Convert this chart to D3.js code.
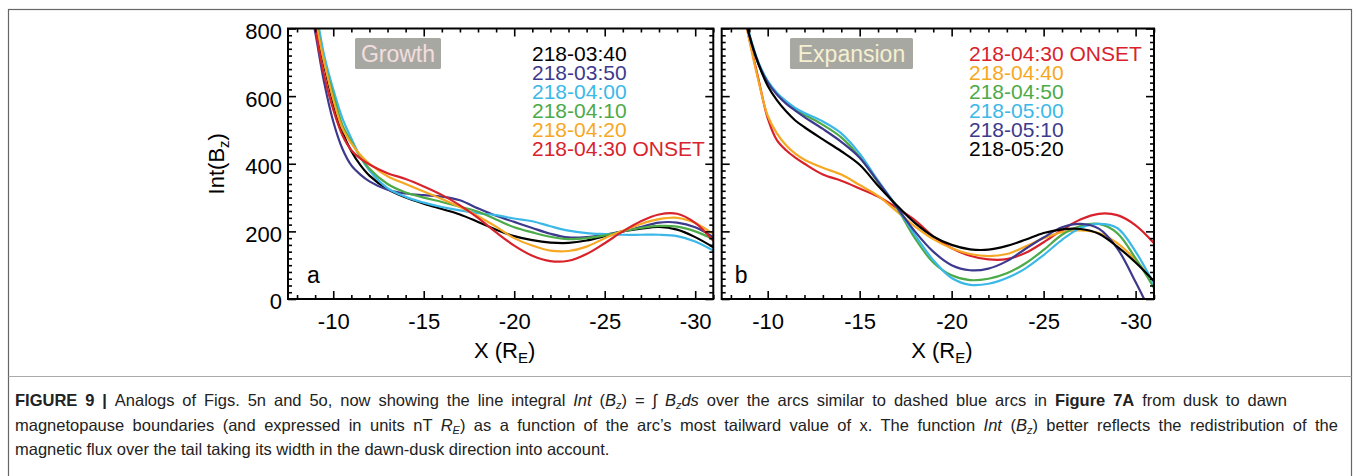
<!DOCTYPE html>
<html>
<head>
<meta charset="utf-8">
<script src="https://cdn.jsdelivr.net/npm/d3@7"></script>
<style>
  body { margin: 0; background: #fff; }
  svg { display: block; font-family: "Liberation Sans", Arial, sans-serif; }
</style>
</head>
<body>
<div id="graph"></div>
<script>
var xs = [-8.6, -9, -9.5, -10, -10.5, -11, -11.5, -12, -13, -14, -15, -16, -17, -18, -19, -20,
          -21, -22, -23, -24, -25, -26, -27, -28, -29, -30, -31];

// panel a : growth phase
var growthLabels = ["218-03:40", "218-03:50", "218-04:00", "218-04:10", "218-04:20", "218-04:30 ONSET"];
var growthColors = ["#000000", "#3d3a8e", "#3cb8e8", "#4caa48", "#f6a823", "#d8232c"];
var g0340 = [960, 810, 690, 580, 495, 437, 396, 365, 325, 300, 282, 266, 250, 228, 205, 186, 174, 167, 166, 173, 186, 200, 208, 213, 205, 183, 153];
var g0350 = [900, 790, 640, 525, 445, 395, 368, 348, 323, 312, 307, 303, 292, 268, 246, 228, 210, 193, 182, 183, 190, 200, 213, 226, 226, 212, 183];
var g0400 = [1000, 870, 720, 620, 535, 475, 420, 380, 328, 302, 285, 272, 262, 254, 248, 238, 230, 215, 202, 195, 192, 190, 190, 190, 186, 170, 143];
var g0410 = [980, 840, 700, 605, 515, 465, 420, 385, 340, 315, 300, 287, 273, 258, 235, 212, 197, 184, 177, 180, 188, 200, 210, 216, 214, 200, 177];
var g0420 = [980, 830, 700, 590, 505, 460, 426, 400, 363, 340, 318, 296, 272, 245, 214, 180, 158, 143, 142, 155, 180, 202, 222, 236, 240, 225, 192];
var g0430 = [950, 805, 660, 560, 485, 440, 415, 398, 372, 355, 333, 308, 277, 240, 197, 158, 128, 112, 113, 133, 165, 200, 230, 250, 252, 225, 172];

// panel b : expansion phase
var expLabels = ["218-04:30 ONSET", "218-04:40", "218-04:50", "218-05:00", "218-05:10", "218-05:20"];
var expColors = ["#d8232c", "#f6a823", "#4caa48", "#3cb8e8", "#3d3a8e", "#000000"];
var e0430 = [880, 770, 650, 535, 470, 440, 418, 400, 368, 350, 327, 303, 270, 233, 185, 150, 128, 117, 118, 136, 168, 204, 235, 252, 248, 218, 165];
var e0440 = [880, 765, 645, 542, 490, 455, 430, 412, 388, 368, 337, 305, 260, 215, 177, 150, 133, 127, 133, 155, 180, 198, 203, 195, 165, 115, 48];
var e0450 = [880, 782, 698, 643, 607, 582, 562, 545, 515, 478, 420, 345, 272, 180, 108, 70, 56, 60, 76, 105, 145, 190, 216, 222, 195, 120, 33];
var e0500 = [880, 785, 700, 645, 610, 585, 565, 550, 525, 490, 430, 350, 275, 190, 115, 62, 42, 45, 62, 90, 130, 175, 210, 222, 210, 140, 43];
var e0510 = [880, 780, 695, 641, 605, 578, 557, 538, 503, 465, 418, 347, 273, 200, 140, 100, 85, 90, 112, 148, 182, 212, 222, 208, 150, 50, -60];
var e0520 = [870, 780, 695, 631, 588, 555, 528, 508, 472, 437, 397, 335, 278, 225, 185, 160, 147, 146, 157, 175, 195, 206, 207, 193, 155, 108, 53];

var xDomain = [-7.5, -31];
var yDomain = [0, 800];
var xMajor = [-10, -15, -20, -25, -30];
var yMajor = [0, 200, 400, 600, 800];

var W = 1356, H = 476;
var svg = d3.select("#graph").append("svg").attr("width", W).attr("height", H);

// figure frame and separator
svg.append("rect").attr("x", 8.5).attr("y", 9.5).attr("width", 1343).attr("height", 480)
    .attr("fill", "none").attr("stroke", "#666").attr("stroke-width", 1.2);
svg.append("line").attr("x1", 8.5).attr("x2", 1351.5).attr("y1", 376.5).attr("y2", 376.5)
    .attr("stroke", "#aaa").attr("stroke-width", 1);

var plotTop = 28.5, plotBottom = 299;
var y = d3.scaleLinear().domain(yDomain).range([plotBottom, plotTop]);

function drawPanel(p) {
    var x = d3.scaleLinear().domain(xDomain).range([p.left, p.right]);
    var g = svg.append("g");

    var clipId = "clip" + p.letter;
    svg.append("defs").append("clipPath").attr("id", clipId)
        .append("rect").attr("x", p.left).attr("y", plotTop)
        .attr("width", p.right - p.left).attr("height", plotBottom - plotTop);

    // curves
    var line = d3.line()
        .x(function(d) { return x(d[0]); })
        .y(function(d) { return y(d[1]); })
        .curve(d3.curveCatmullRom.alpha(0.5));
    var lines = g.append("g").attr("clip-path", "url(#" + clipId + ")");
    p.series.forEach(function(s, i) {
        lines.append("path")
            .datum(xs.map(function(v, j) { return [v, s[j]]; }))
            .attr("d", line)
            .attr("fill", "none")
            .attr("stroke", p.colors[i])
            .attr("stroke-width", 2.2);
    });

    // axes, ticks pointing inward on all four sides
    var xMinor = d3.range(-8, -31.5, -1).filter(function(v) { return xMajor.indexOf(v) < 0; });
    var yMinor = d3.range(20, 800, 20).filter(function(v) { return v % 200 != 0; });

    function addAxis(axis, tr, cls) {
        var a = g.append("g").attr("class", cls).attr("transform", tr).call(axis);
        a.select(".domain").remove();
        a.selectAll(".tick line").attr("stroke", "#000").attr("stroke-width", 1.6);
        return a;
    }

    var xb = addAxis(d3.axisBottom(x).tickValues(xMajor).tickSize(-8).tickPadding(14)
        .tickFormat(function(d) { return d; }), "translate(0," + plotBottom + ")", "axis axis--x");
    xb.selectAll("text").attr("font-size", 22).attr("fill", "#000")
        .attr("font-family", "Liberation Sans, Arial, sans-serif");
    addAxis(d3.axisBottom(x).tickValues(xMinor).tickSize(-4).tickFormat(""), "translate(0," + plotBottom + ")", "minor");
    addAxis(d3.axisTop(x).tickValues(xMajor).tickSize(-8).tickFormat(""), "translate(0," + plotTop + ")", "minor");
    addAxis(d3.axisTop(x).tickValues(xMinor).tickSize(-4).tickFormat(""), "translate(0," + plotTop + ")", "minor");

    var yl = addAxis(d3.axisLeft(y).tickValues(yMajor).tickSize(-8).tickPadding(6)
        .tickFormat(p.yLabels ? d3.format("d") : ""), "translate(" + p.left + ",0)", "axis axis--y");
    yl.selectAll("text").attr("font-size", 22).attr("fill", "#000").attr("dy", "0.45em")
        .attr("font-family", "Liberation Sans, Arial, sans-serif");
    addAxis(d3.axisLeft(y).tickValues(yMinor).tickSize(-4).tickFormat(""), "translate(" + p.left + ",0)", "minor");
    addAxis(d3.axisRight(y).tickValues(yMajor).tickSize(-8).tickFormat(""), "translate(" + p.right + ",0)", "minor");
    addAxis(d3.axisRight(y).tickValues(yMinor).tickSize(-4).tickFormat(""), "translate(" + p.right + ",0)", "minor");

    g.append("rect").attr("x", p.left).attr("y", plotTop)
        .attr("width", p.right - p.left).attr("height", plotBottom - plotTop)
        .attr("fill", "none").attr("stroke", "#000").attr("stroke-width", 2);

    // phase box
    g.append("rect").attr("x", p.boxX).attr("y", 38).attr("width", p.boxW).attr("height", 31)
        .attr("rx", 1.5).attr("fill", "#a8a8a3");
    g.append("text").attr("x", p.boxX + p.boxW / 2).attr("y", 62)
        .attr("text-anchor", "middle").attr("font-size", 23).attr("fill", p.boxText)
        .text(p.phase);

    // legend
    p.labels.forEach(function(t, i) {
        g.append("text").attr("x", p.legX).attr("y", 61 + i * 19)
            .attr("font-size", 21).attr("fill", p.colors[i]).text(t);
    });

    // panel letter
    g.append("text").attr("x", p.left + (p.letter == "a" ? 19 : 13)).attr("y", 283)
        .attr("font-size", 23).attr("fill", "#000").text(p.letter);

    // x title
    var xt = g.append("text").attr("x", (p.left + p.right) / 2 + 4).attr("y", 358)
        .attr("text-anchor", "middle").attr("font-size", 22).attr("fill", "#000");
    xt.append("tspan").text("X (R");
    xt.append("tspan").attr("font-size", 15).attr("dy", 5).text("E");
    xt.append("tspan").attr("dy", -5).text(")");
}

drawPanel({ letter: "a", left: 288, right: 713.3, series: [g0340, g0350, g0400, g0410, g0420, g0430],
    colors: growthColors, labels: growthLabels, phase: "Growth", boxX: 355, boxW: 86, boxText: "#f3dede",
    legX: 532, yLabels: true });
drawPanel({ letter: "b", left: 721.7, right: 1154, series: [e0430, e0440, e0450, e0500, e0510, e0520],
    colors: expColors, labels: expLabels, phase: "Expansion", boxX: 790, boxW: 123, boxText: "#f4f0d0",
    legX: 969, yLabels: false });

// y title
var yt = svg.append("text").attr("transform", "translate(224," + ((plotTop + plotBottom) / 2) + ") rotate(-90)")
    .attr("text-anchor", "middle").attr("font-size", 22).attr("fill", "#000");
yt.append("tspan").text("Int(B");
yt.append("tspan").attr("font-size", 15).attr("dy", 5).text("z");
yt.append("tspan").attr("dy", -5).text(")");

// caption (first two lines justified to the full width)
var cap = svg.append("g").attr("font-size", 16.5).attr("fill", "#222");
function sub(t, s) {
    t.append("tspan").attr("font-style", "italic").attr("font-size", 11).attr("dy", 3).text(s);
}
var l1 = cap.append("text").attr("x", 15).attr("y", 406);
l1.append("tspan").attr("font-weight", "bold").text("FIGURE 9 | ");
l1.append("tspan").text("Analogs of Figs. 5n and 5o, now showing the line integral ");
l1.append("tspan").attr("font-style", "italic").text("Int");
l1.append("tspan").text(" (");
l1.append("tspan").attr("font-style", "italic").text("B");
sub(l1, "z");
l1.append("tspan").attr("dy", -3).text(") = \u222B ");
l1.append("tspan").attr("font-style", "italic").text("B");
sub(l1, "z");
l1.append("tspan").attr("font-style", "italic").attr("dy", -3).text("ds");
l1.append("tspan").text(" over the arcs similar to dashed blue arcs in ");
l1.append("tspan").attr("font-weight", "bold").text("Figure 7A");
l1.append("tspan").text(" from dusk to dawn");

var l2 = cap.append("text").attr("x", 15).attr("y", 431);
l2.append("tspan").text("magnetopause boundaries (and expressed in units nT ");
l2.append("tspan").attr("font-style", "italic").text("R");
sub(l2, "E");
l2.append("tspan").attr("dy", -3).text(") as a function of the arc\u2019s most tailward value of x. The function ");
l2.append("tspan").attr("font-style", "italic").text("Int");
l2.append("tspan").text(" (");
l2.append("tspan").attr("font-style", "italic").text("B");
sub(l2, "z");
l2.append("tspan").attr("dy", -3).text(") better reflects the redistribution of the");

cap.append("text").attr("x", 15).attr("y", 455)
    .text("magnetic flux over the tail taking its width in the dawn-dusk direction into account.");

function justify(t, width) {
    var node = t.node();
    var spaces = (node.textContent.match(/ /g) || []).length;
    var extra = (width - node.getComputedTextLength()) / spaces;
    if (extra > 0) t.attr("word-spacing", extra);
}
justify(l1, 1272);
justify(l2, 1323);
</script>
</body>
</html>
